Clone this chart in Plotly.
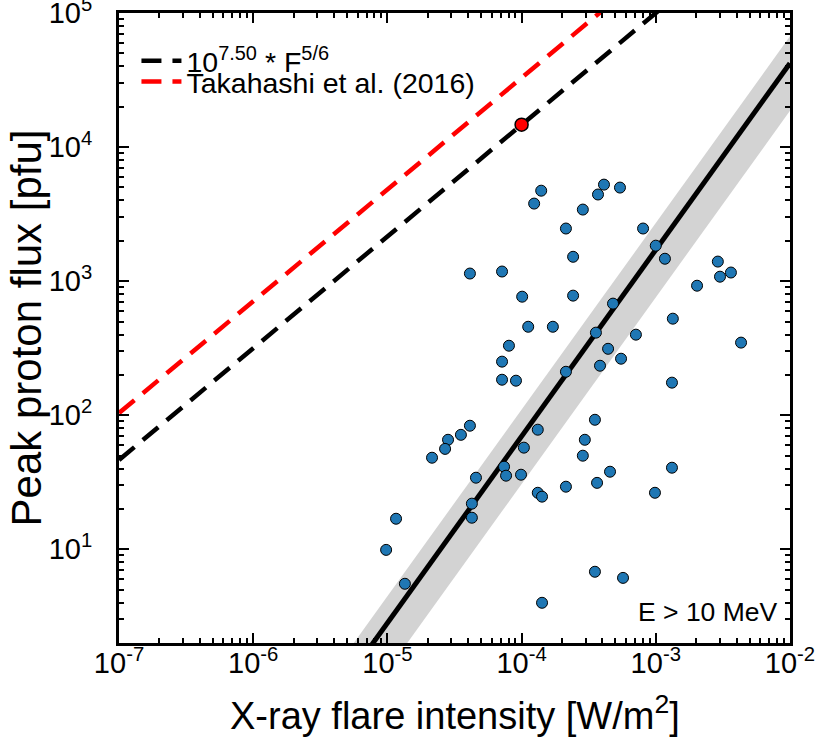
import numpy as np
import plotly.graph_objects as go

# observed events: GOES X-ray peak [W/m2] and >10 MeV peak proton flux [pfu]
flare_intensity = [
    1.40e-4, 1.24e-4, 2.86e-4, 3.71e-4, 4.11e-4, 5.41e-4, 2.14e-4, 8.04e-4,
    1.00e-3, 1.17e-3, 2.42e-4, 2.90e-3, 3.01e-3, 3.63e-3, 2.03e-3, 2.42e-4,
    4.80e-4, 1.34e-3, 3.58e-4, 7.11e-4, 4.41e-4, 5.51e-4, 4.32e-3, 2.14e-4,
    3.84e-4, 1.32e-3, 4.12e-5, 7.15e-5, 1.01e-4, 1.12e-4, 1.71e-4, 8.05e-5,
    7.15e-5, 7.15e-5, 9.08e-5, 3.52e-4, 1.32e-4, 4.12e-5, 3.53e-5, 2.83e-5,
    2.69e-5, 2.15e-5, 1.04e-4, 2.96e-4, 2.86e-4, 7.40e-5, 7.66e-5, 9.90e-5,
    4.57e-5, 2.14e-4, 1.32e-4, 1.42e-4, 3.65e-4, 4.26e-5, 4.26e-5, 1.16e-5,
    9.78e-6, 1.35e-5, 3.52e-4, 1.42e-4, 4.56e-4, 1.32e-3, 9.86e-4, 5.70e-4,
]
peak_flux = [
    4730, 3790, 3420, 4430, 5250, 4990, 2470, 2470,
    1840, 1470, 1520, 1400, 1080, 1160, 925, 780,
    680, 525, 413, 399, 313, 264, 348, 211,
    234, 175, 1140, 1180, 766, 457, 457, 330,
    251, 184, 181, 92.5, 78, 83.5, 71.4, 65.6,
    56.1, 48.2, 57.3, 65.6, 49.9, 41.3, 35.4, 36.0,
    34.2, 29.3, 26.4, 24.7, 31.3, 21.9, 17.2, 16.9,
    9.9, 5.53, 6.8, 3.99, 37.9, 40.6, 26.4, 6.12,
]

# the highlighted X1 event on the scaling line
marked_flare = [1e-4]
marked_flux = [1.47e4]

# model relations: log10(Fp) = logc + index * log10(F)
line_x = [1e-7, 1e-2]
scaling_logc, scaling_index = 7.50, 5 / 6
takahashi_logc, takahashi_index = 7.85, 5 / 6
fit_logc, fit_index = 7.41, 1.392
band_upper_dex, band_lower_dex = 0.20, -0.355

FONT = "Liberation Sans, Arial, sans-serif"


def power_law(x, logc, index, shift=0.0):
    return list(10 ** (logc + shift + index * np.log10(np.array(x))))


fig = go.Figure()

fig.add_trace(go.Scatter(
    x=line_x, y=power_law(line_x, fit_logc, fit_index, band_lower_dex),
    mode="lines", line=dict(width=0), showlegend=False, hoverinfo="skip",
))
fig.add_trace(go.Scatter(
    x=line_x, y=power_law(line_x, fit_logc, fit_index, band_upper_dex),
    mode="lines", line=dict(width=0), fill="tonexty", fillcolor="#d3d3d3",
    showlegend=False, hoverinfo="skip",
))
fig.add_trace(go.Scatter(
    x=line_x, y=power_law(line_x, fit_logc, fit_index),
    mode="lines", line=dict(color="black", width=5), showlegend=False,
))
fig.add_trace(go.Scatter(
    x=line_x, y=power_law(line_x, scaling_logc, scaling_index),
    mode="lines", line=dict(color="black", width=4.5, dash="20px,11px"),
    name="10<sup>7.50</sup> * F<sup>5/6</sup>", legend="legend",
))
fig.add_trace(go.Scatter(
    x=line_x, y=power_law(line_x, takahashi_logc, takahashi_index),
    mode="lines", line=dict(color="#ff0000", width=4.5, dash="20px,11px"),
    name="Takahashi et al. (2016)", legend="legend2",
))
fig.add_trace(go.Scatter(
    x=flare_intensity, y=peak_flux, mode="markers",
    marker=dict(size=11, color="#1f77b4", line=dict(color="black", width=1)),
    showlegend=False,
))
fig.add_trace(go.Scatter(
    x=marked_flare, y=marked_flux, mode="markers",
    marker=dict(size=13, color="#ff0000", line=dict(color="black", width=1.5)),
    showlegend=False,
))

x_ticks = [1e-7, 1e-6, 1e-5, 1e-4, 1e-3, 1e-2]
x_ticktext = ["10<sup>-7</sup>", "10<sup>-6</sup>", "10<sup>-5</sup>",
              "10<sup>-4</sup>", "10<sup>-3</sup>", "10<sup>-2</sup>"]
y_ticks = [1e1, 1e2, 1e3, 1e4, 1e5]
y_ticktext = ["10<sup>1</sup>", "10<sup>2</sup>", "10<sup>3</sup>",
              "10<sup>4</sup>", "10<sup>5</sup>"]

x_minor = [k * 10.0 ** d for d in range(-7, -2) for k in range(2, 10)]
y_minor = [k * 10.0 ** d for d in range(0, 5) for k in range(2, 10)]

axis_style = dict(
    type="log", showline=True, linecolor="black", linewidth=3, mirror="allticks",
    ticks="inside", ticklen=10, tickwidth=2, tickcolor="black",
    showgrid=False, zeroline=False, automargin=False, ticklabeloverflow="allow",
    tickfont=dict(size=29, color="black"),
)

fig.update_xaxes(
    **axis_style, range=[-7.0002, -1.9998], tickvals=x_ticks, ticktext=x_ticktext,
    minor=dict(tickvals=x_minor, ticks="inside", ticklen=5, tickwidth=1.5,
               tickcolor="black", showgrid=False),
    ticklabelstandoff=-8,
)
fig.update_yaxes(
    **axis_style, range=[np.log10(2), 5.0003], tickvals=y_ticks, ticktext=y_ticktext,
    minor=dict(tickvals=y_minor, ticks="inside", ticklen=5, tickwidth=1.5,
               tickcolor="black", showgrid=False),
    ticklabelstandoff=18,
)

fig.add_annotation(
    text="X-ray flare intensity [W/m<sup>2</sup>]", xref="paper", yref="paper",
    x=0.5, y=-0.111, xanchor="center", yanchor="middle", showarrow=False,
    font=dict(size=38, color="black"),
)
fig.add_annotation(
    text="Peak proton flux [pfu]", xref="paper", yref="paper",
    x=-0.138, y=0.5, xanchor="center", yanchor="middle", showarrow=False,
    textangle=-90, font=dict(size=42, color="black"),
)
fig.add_annotation(
    text="E > 10 MeV", xref="paper", yref="paper", x=0.985, y=0.05,
    xanchor="right", yanchor="middle", showarrow=False,
    font=dict(size=26.5, color="black"),
)

legend_style = dict(xanchor="left", yanchor="top", bgcolor="rgba(0,0,0,0)",
                    font=dict(size=28.5), itemwidth=40)

fig.update_layout(
    width=830, height=743,
    margin=dict(l=119, r=40, t=13, b=100),
    paper_bgcolor="white", plot_bgcolor="white",
    font=dict(family=FONT, color="black"),
    legend=dict(x=0.026, y=0.964, **legend_style),
    legend2=dict(x=0.026, y=0.931, **legend_style),
    showlegend=True,
)

# drop the default 8px body margin so the figure fills the window
fig.write_html(
    "out.html",
    config={"displayModeBar": False},
    post_script="document.body.style.margin = '0';",
)
